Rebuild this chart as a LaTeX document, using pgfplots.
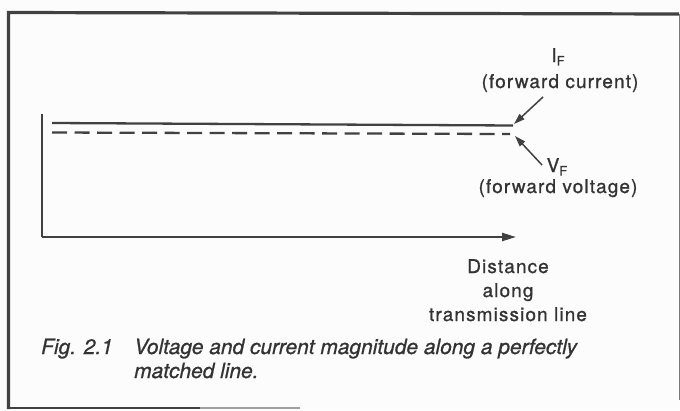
\documentclass[border=0pt]{standalone}
\usepackage{fontspec}
\setmainfont{TeX Gyre Heros}
\newfontfamily\labfont[LetterSpace=6,FakeBold=0.9]{TeX Gyre Heros}
\newfontfamily\capfont[FakeBold=0.8]{TeX Gyre Heros}
\usepackage{pgfplots}
\pgfplotsset{compat=1.18}
\usetikzlibrary{arrows.meta}
\definecolor{ink}{HTML}{414141}
\definecolor{txt}{HTML}{333333}
\definecolor{bg}{HTML}{FCFCFC}
\newcommand{\lab}{\labfont\fontsize{19}{22}\selectfont}
\newcommand{\capf}{\capfont\fontsize{21}{25}\selectfont\itshape}
\begin{document}
\begin{tikzpicture}[x=1bp,y=1bp]
\fill[bg] (0,0) rectangle (680,410);
\useasboundingbox (0,0) rectangle (680,410);
% frame
\draw[ink, line width=3.2bp] (8.5,1) -- (8.5,397.5) -- (679,396);
\draw[ink!70, line width=1bp] (679,396) -- (679,10);
\draw[ink, line width=2bp] (8.5,2) -- (200,2);
\draw[ink!50, line width=1.5bp] (200,2) -- (300,2);
\begin{axis}[
  at={(42bp,173bp)}, anchor=south west,
  scale only axis, width=474bp, height=123bp,
  xmin=42, xmax=516, ymin=0, ymax=123,
  axis lines=left, xtick=\empty, ytick=\empty,
  clip=false,
  axis line style={ink, line width=2.2bp},
  x axis line style={-{Triangle[length=14bp,width=8bp]}},
  y axis line style={-},
]
\addplot[ink, line width=2.3bp] coordinates {(52,114) (513,111.5)};
\addplot[ink, line width=2.3bp, dash pattern=on 15bp off 7.5bp] coordinates {(52,104.5) (510,103)};
\draw[ink, line width=1.5bp, -{Triangle[length=11bp,width=7bp]}] (axis cs:543,140) -- (axis cs:514,113);
\draw[ink, line width=1.5bp, -{Triangle[length=11bp,width=7bp]}] (axis cs:542,72) -- (axis cs:515,101);
\end{axis}
\begin{scope}[txt]
\node[anchor=base, inner sep=0] at (558,348) {\lab I\raisebox{-0.35ex}{\fontsize{13}{14}\selectfont F}};
\node[anchor=base, inner sep=0] at (560,322) {\lab (forward current)};
\node[anchor=base, inner sep=0] at (557,238) {\lab V\raisebox{-0.35ex}{\fontsize{13}{14}\selectfont F}};
\node[anchor=base, inner sep=0] at (558,217) {\lab (forward voltage)};
\node[anchor=base, inner sep=0] at (508,137) {\lab Distance};
\node[anchor=base, inner sep=0] at (508,113) {\lab along};
\node[anchor=base, inner sep=0] at (508,89) {\lab transmission line};
\node[anchor=base west, inner sep=0] at (41,56) {\capf Fig. 2.1};
\node[anchor=base west, inner sep=0] at (134,56) {\capf Voltage and current magnitude along a perfectly};
\node[anchor=base west, inner sep=0] at (134,32) {\capf matched line.};
\end{scope}
\end{tikzpicture}
\end{document}
